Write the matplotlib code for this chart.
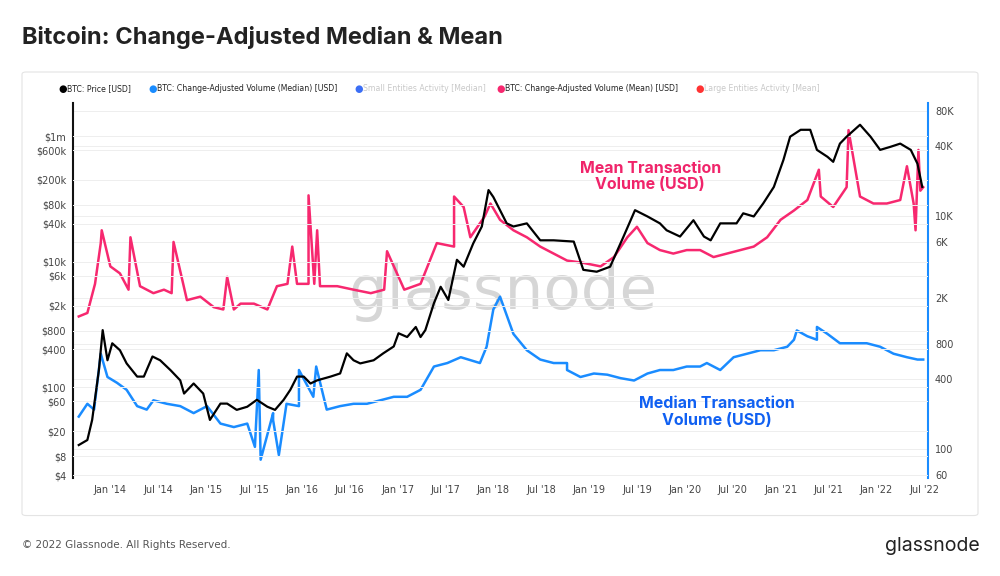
import numpy as np
import matplotlib
matplotlib.use("Agg")
import matplotlib.pyplot as plt
from matplotlib.patches import FancyBboxPatch

# ---- data (decimal year, log10 value) ----
price_years = [2013.67,2013.76,2013.81,2013.88,2013.92,2013.97,2014.02,2014.10,2014.17,2014.28,2014.35,2014.44,2014.52,
    2014.63,2014.73,2014.77,2014.87,2014.97,2015.04,2015.15,2015.22,2015.32,2015.43,2015.53,2015.64,2015.72,2015.81,
    2015.88,2015.95,2016.02,2016.09,2016.16,2016.30,2016.40,2016.47,2016.54,2016.61,2016.75,2016.85,2016.96,2017.01,
    2017.10,2017.19,2017.24,2017.29,2017.38,2017.45,2017.53,2017.62,2017.69,2017.79,2017.88,2017.95,2018.00,2018.07,
    2018.14,2018.21,2018.35,2018.49,2018.63,2018.84,2018.94,2019.08,2019.22,2019.36,2019.48,2019.61,2019.74,2019.81,
    2019.95,2020.09,2020.20,2020.27,2020.37,2020.54,2020.61,2020.72,2020.82,2020.93,2021.03,2021.10,2021.21,2021.31,
    2021.38,2021.49,2021.55,2021.62,2021.69,2021.83,2021.94,2022.04,2022.15,2022.25,2022.36,2022.43,2022.48]
price_log = [1.08,1.16,1.48,2.27,2.91,2.43,2.70,2.59,2.38,2.17,2.17,2.49,2.43,
    2.27,2.11,1.90,2.06,1.90,1.48,1.74,1.74,1.64,1.69,1.80,1.69,1.64,1.80,
    1.96,2.17,2.17,2.06,2.11,2.17,2.22,2.54,2.43,2.38,2.43,2.54,2.65,2.86,
    2.80,2.96,2.80,2.91,3.34,3.60,3.39,4.03,3.92,4.29,4.56,5.14,5.03,4.82,
    4.61,4.56,4.61,4.34,4.34,4.32,3.87,3.84,3.92,4.40,4.82,4.72,4.61,4.50,
    4.40,4.66,4.40,4.34,4.61,4.61,4.77,4.72,4.93,5.19,5.62,5.99,6.10,6.10,
    5.78,5.67,5.59,5.88,5.99,6.18,5.99,5.78,5.83,5.88,5.78,5.56,5.19]

mean_years = [2013.67,2013.76,2013.84,2013.90,2013.91,2014.00,2014.10,2014.19,2014.21,2014.31,2014.45,2014.56,2014.64,
    2014.66,2014.80,2014.94,2015.08,2015.18,2015.22,2015.29,2015.36,2015.50,2015.64,2015.74,2015.85,2015.90,2015.95,
    2016.07,2016.07,2016.13,2016.16,2016.19,2016.37,2016.54,2016.72,2016.86,2016.89,2017.07,2017.24,2017.41,
    2017.59,2017.59,2017.69,2017.76,2017.91,2017.97,2018.07,2018.21,2018.35,2018.49,2018.63,2018.77,2018.94,2019.12,
    2019.26,2019.40,2019.50,2019.61,2019.74,2019.88,2020.02,2020.16,2020.30,2020.44,2020.58,2020.72,2020.86,2021.00,
    2021.14,2021.28,2021.40,2021.42,2021.55,2021.69,2021.71,2021.83,2021.97,2022.11,2022.25,2022.32,2022.39,2022.41,
    2022.44,2022.46,2022.49]
mean_log = [3.14,3.17,3.42,3.77,3.88,3.57,3.51,3.37,3.82,3.40,3.34,3.37,3.34,
    3.78,3.28,3.31,3.22,3.20,3.48,3.20,3.25,3.25,3.20,3.40,3.42,3.74,3.42,
    3.42,4.18,3.42,3.88,3.40,3.40,3.37,3.34,3.37,3.70,3.37,3.42,3.77,
    3.74,4.17,4.08,3.82,4.00,4.11,3.97,3.88,3.82,3.74,3.68,3.62,3.60,3.57,
    3.65,3.82,3.91,3.77,3.71,3.68,3.71,3.71,3.65,3.68,3.71,3.74,3.82,3.97,
    4.05,4.14,4.40,4.17,4.08,4.25,4.74,4.17,4.11,4.11,4.14,4.43,4.11,3.88,
    4.57,4.22,4.25]

median_years = [2013.67,2013.76,2013.83,2013.90,2013.97,2014.07,2014.17,2014.28,2014.38,2014.45,2014.59,2014.73,2014.87,
    2015.01,2015.15,2015.29,2015.43,2015.51,2015.55,2015.57,2015.70,2015.70,2015.76,2015.84,2015.97,2015.97,2016.12,
    2016.15,2016.26,2016.40,2016.54,2016.68,2016.82,2016.96,2017.10,2017.24,2017.38,2017.52,2017.66,2017.86,2017.93,
    2018.00,2018.07,2018.21,2018.35,2018.49,2018.63,2018.77,2018.77,2018.91,2019.05,2019.19,2019.33,2019.47,2019.61,
    2019.74,2019.88,2020.02,2020.16,2020.23,2020.37,2020.51,2020.65,2020.79,2020.93,2021.07,2021.14,2021.17,2021.28,
    2021.38,2021.38,2021.49,2021.62,2021.76,2021.90,2022.04,2022.18,2022.32,2022.43,2022.49]
median_log = [2.28,2.39,2.34,2.82,2.62,2.57,2.51,2.37,2.34,2.42,2.39,2.37,2.31,
    2.37,2.22,2.19,2.22,2.02,2.68,1.91,2.31,2.25,1.95,2.39,2.37,2.68,2.45,
    2.71,2.34,2.37,2.39,2.39,2.42,2.45,2.45,2.51,2.71,2.74,2.79,2.74,2.88,
    3.20,3.31,2.99,2.85,2.77,2.74,2.74,2.68,2.62,2.65,2.64,2.61,2.59,2.65,
    2.68,2.68,2.71,2.71,2.74,2.68,2.79,2.82,2.85,2.85,2.88,2.94,3.02,2.97,
    2.94,3.05,2.99,2.91,2.91,2.91,2.88,2.82,2.79,2.77,2.77]

left_ticks = [4, 8, 20, 60, 100, 400, 800, 2e3, 6e3, 1e4, 4e4, 8e4, 2e5, 6e5, 1e6]
left_labels = ["$4","$8","$20","$60","$100","$400","$800","$2k","$6k","$10k","$40k","$80k","$200k","$600k","$1m"]
right_ticks = [60, 100, 400, 800, 2e3, 6e3, 1e4, 4e4, 8e4]
right_labels = ["60","100","400","800","2K","6K","10K","40K","80K"]
x_ticks = [2014 + 0.5*i for i in range(18)]
x_labels = [("Jan '%02d" if i % 2 == 0 else "Jul '%02d") % (14 + i//2) for i in range(18)]

PINK = "#f7286f"; BLUE = "#1a8cff"; BLACK = "#000000"

fig = plt.figure(figsize=(10, 5.76), dpi=100)
fig.patch.set_facecolor("white")
fig.text(0.022, 0.935, "Bitcoin: Change-Adjusted Median & Mean", fontsize=17, fontweight="bold",
         color="#222222", va="center", family="Inter")
card = FancyBboxPatch((0.022, 0.105), 0.956, 0.77, boxstyle="round,pad=0,rounding_size=0.004",
                      transform=fig.transFigure, fc="none", ec="#e4e4e4", lw=0.8, zorder=-5)
fig.patches.append(card)

ax = fig.add_axes([0.073, 0.170, 0.855, 0.651])
ax2 = ax.twinx()
ax.set_yscale("log"); ax2.set_yscale("log")
ax.set_ylim(3.58, 3.35e6); ax2.set_ylim(56.5, 93.8e3)
ax.set_xlim(2013.61, 2022.54)

ax2.text(2018.1, 10**3.35, "glassnode", fontsize=44, color="#d6d6d6", ha="center", va="center", zorder=0)

ax.plot(price_years, 10**np.array(price_log), color=BLACK, lw=1.6, zorder=5)
ax2.plot(mean_years, 10**np.array(mean_log), color=PINK, lw=1.8, zorder=4)
ax2.plot(median_years, 10**np.array(median_log), color=BLUE, lw=1.8, zorder=4)
ax.set_zorder(ax2.get_zorder() + 1); ax.patch.set_visible(False)

ax.set_yticks(left_ticks); ax.set_yticklabels(left_labels)
ax.yaxis.set_minor_locator(matplotlib.ticker.NullLocator())
ax2.set_yticks(right_ticks); ax2.set_yticklabels(right_labels)
ax2.yaxis.set_minor_locator(matplotlib.ticker.NullLocator())
ax.set_xticks(x_ticks); ax.set_xticklabels(x_labels)
for a in (ax, ax2):
    a.tick_params(length=0, labelsize=7, labelcolor="#444444", pad=5)
ax2.grid(axis="y", color="#eeeeee", lw=0.7)
for t in left_ticks:
    ax.axhline(t, color="#eeeeee", lw=0.7, zorder=0)
for s in ("top", "bottom"):
    ax.spines[s].set_visible(False); ax2.spines[s].set_visible(False)
ax.spines["right"].set_visible(False)
ax2.spines["left"].set_color("#111111"); ax2.spines["left"].set_linewidth(1.5)
ax2.spines["right"].set_color(BLUE); ax2.spines["right"].set_linewidth(1.5)
ax.spines["left"].set_visible(False)

ax.text(2019.64, 10**5.36, "Mean Transaction\nVolume (USD)", color="#f0246a", fontsize=11.5,
        fontweight="bold", ha="center", va="center", family="Inter", linespacing=1.1)
ax.text(2020.33, 10**1.605, "Median Transaction\nVolume (USD)", color="#1060f2", fontsize=11.5,
        fontweight="bold", ha="center", va="center", family="Inter", linespacing=1.1)

# legend
leg = [("BTC: Price [USD]", BLACK, "#222222", 0.058),
       ("BTC: Change-Adjusted Volume (Median) [USD]", BLUE, "#222222", 0.148),
       ("Small Entities Activity [Median]", "#3b6ef5", "#c8c8c8", 0.354),
       ("BTC: Change-Adjusted Volume (Mean) [USD]", PINK, "#222222", 0.496),
       ("Large Entities Activity [Mean]", "#ff3333", "#c8c8c8", 0.695)]
for label, mc, tc, x in leg:
    fig.text(x, 0.846, "\u25CF", color=mc, fontsize=7, va="center")
    fig.text(x + 0.009, 0.846, label, color=tc, fontsize=5.6, va="center")

fig.text(0.022, 0.054, "\u00a9 2022 Glassnode. All Rights Reserved.", fontsize=7.5, color="#555555", va="center")
fig.text(0.980, 0.052, "glassnode", fontsize=14, color="#222222", ha="right", va="center", family="Inter")

fig.savefig("out.png", dpi=100, facecolor="white")
